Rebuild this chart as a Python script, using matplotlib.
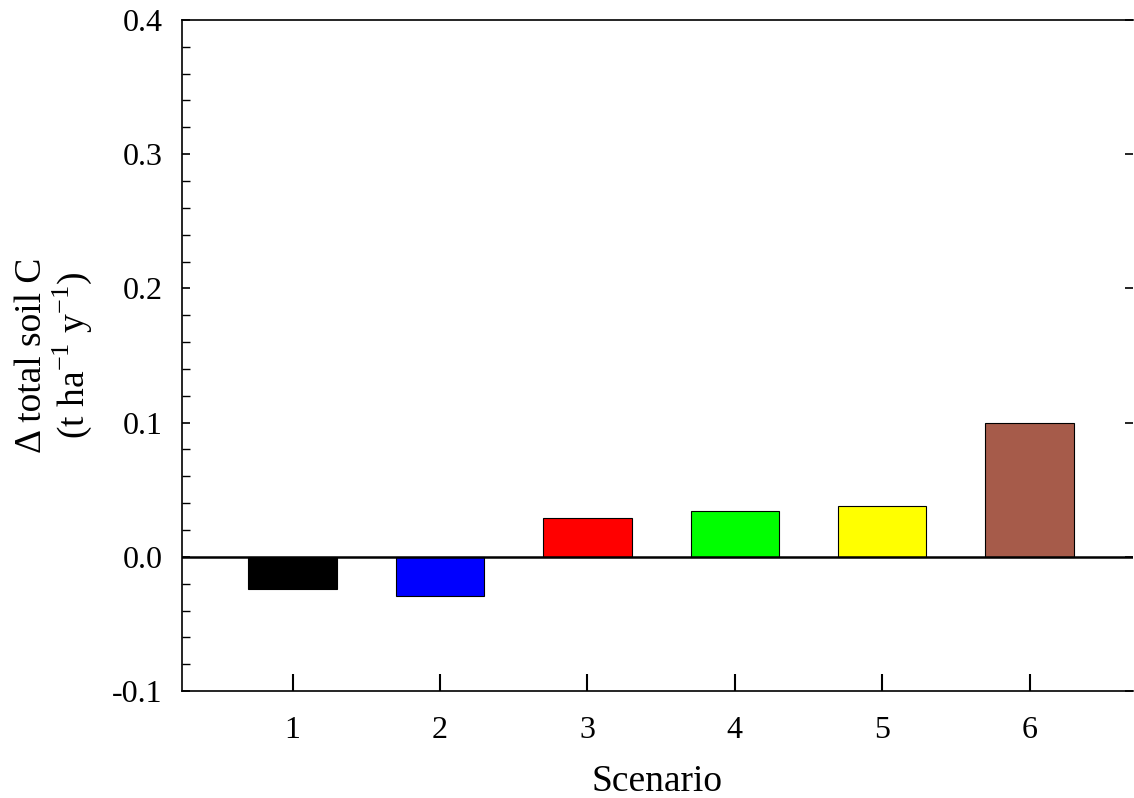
import numpy as np
from matplotlib import pyplot as plt
from matplotlib.ticker import MultipleLocator

scenarios = [1, 2, 3, 4, 5, 6]
delta_c = [-0.024, -0.029, 0.029, 0.034, 0.038, 0.100]
colors = ["#000000", "#0000FF", "#FF0000", "#00FF00", "#FFFF00", "#A65B4A"]

plt.rcParams["font.family"] = ["Liberation Serif", "DejaVu Serif"]
plt.rcParams["mathtext.fontset"] = "custom"
plt.rcParams["mathtext.rm"] = "Liberation Serif"

fig = plt.figure(figsize=(11.34, 7.98), dpi=100)
ax = fig.add_axes([0.1605, 0.134, 0.8385, 0.841])

ax.bar(scenarios, delta_c, width=0.6, color=colors, edgecolor="black", linewidth=0.8, zorder=2)
ax.axhline(0, color="black", linewidth=1.8, zorder=3)

ax.set_xlim(0.25, 6.7)
ax.set_ylim(-0.1, 0.4)
ax.set_xticks(scenarios)
ax.yaxis.set_major_locator(MultipleLocator(0.1))
ax.yaxis.set_minor_locator(MultipleLocator(0.02))
ax.set_yticklabels([f"{v:.1f}" for v in ax.get_yticks()])

ax.spines["right"].set_visible(False)
for s in ["left", "bottom", "top"]:
    ax.spines[s].set_linewidth(1.2)

ax.tick_params(axis="x", direction="in", length=12, width=1.5, labelsize=23, pad=18)
ax.tick_params(axis="y", which="major", direction="in", length=6, width=1.2,
               labelsize=23, pad=14, right=True)
ax.tick_params(axis="y", which="minor", direction="in", length=6, width=1.0)

ax.set_xlabel("Scenario", fontsize=27, labelpad=14)
ax.set_ylabel("Δ total soil C\n(t ha$^{\\mathrm{-1}}$ y$^{\\mathrm{-1}}$)", fontsize=27,
              labelpad=13, linespacing=1.05)

fig.savefig("out.png", dpi=100)
